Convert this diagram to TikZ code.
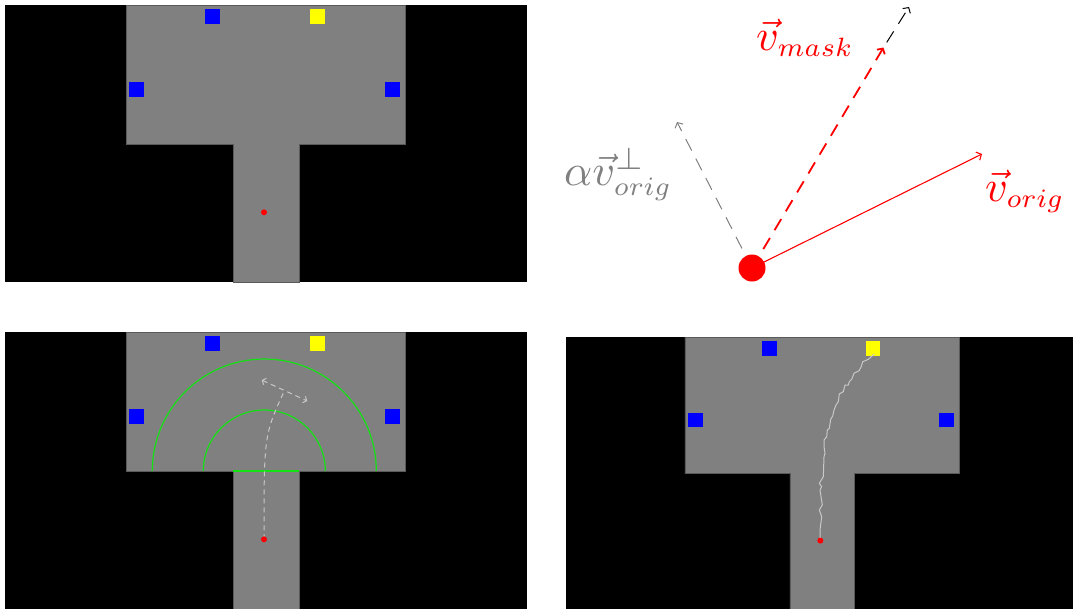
\documentclass[tikz,border=0pt]{standalone}
\usepackage{graphicx}
\usetikzlibrary{arrows.meta}
\definecolor{floorgray}{RGB}{128,128,128}
\definecolor{edgegray}{RGB}{90,90,90}
\definecolor{tblue}{RGB}{0,0,255}
\definecolor{tyellow}{RGB}{255,255,0}
\definecolor{tred}{RGB}{255,0,0}
\definecolor{tgreen}{RGB}{20,225,20}
\definecolor{pathgray}{RGB}{200,200,200}
\definecolor{labgray}{RGB}{128,128,128}
\newcommand{\subsc}[1]{\scalebox{0.86}{$\scriptstyle #1$}}
\tikzset{
  tip/.style={-{Straight Barb[length=4pt,width=9pt]}},
  dtip/.style={{Straight Barb[length=3pt,width=7pt]}-{Straight Barb[length=3pt,width=7pt]}},
  dashpat/.style={dash pattern=on 13pt off 9pt},
  lab/.style={inner sep=0pt,anchor=base west},
  tmap/.pic={
    \fill[black] (0,0) rectangle (522,277);
    \fill[floorgray,draw=edgegray,line width=0.6pt] (121,0) -- (400,0) -- (400,139) -- (294,139) -- (294,277) -- (228,277) -- (228,139) -- (121,139) -- cycle;
    \fill[tblue] (200,4) rectangle ++(15,15);
    \fill[tyellow] (305,4) rectangle ++(15,15);
    \fill[tblue] (124,77) rectangle ++(15,15);
    \fill[tblue] (380,77) rectangle ++(15,15);
    \coordinate (-dot) at (259,207.3);
  }
}
\begin{document}
\begin{tikzpicture}[x=1pt,y=-1pt]
\useasboundingbox (0,0) rectangle (1073,608);

% top-left map
\pic (tl) at (5,5) {tmap};
\fill[tred] (tl-dot) circle[radius=3];

% bottom-left map
\pic (bl) at (5,332) {tmap};
\draw[tgreen,line width=1.2pt] (152.3,471) arc[start angle=180,end angle=360,radius=112];
\draw[tgreen,line width=1.2pt] (203.3,471) arc[start angle=180,end angle=360,radius=61];
\coordinate (gl) at (233,471);
\coordinate (gr) at (299,471);
\draw[tgreen,line width=1.2pt] (gl) -- (gr);
\coordinate (hd) at (284.5,390.5);
\coordinate (ha) at (261.7,380);
\coordinate (hb) at (307.3,401);
\draw[pathgray,line width=1pt,dash pattern=on 5pt off 4pt] (bl-dot) .. controls (264,435) .. (hd);
\draw[pathgray,line width=1pt,dash pattern=on 5pt off 4pt,dtip] (ha) -- (hb);
\fill[tred] (bl-dot) circle[radius=3];

% bottom-right map
\begin{scope}
\clip (566,337) rectangle (1073,608);
\pic[scale=0.982] (br) at (566,337) {tmap};
\end{scope}
\draw[pathgray,line width=1pt,line join=round] (br-dot) -- (820,530) -- (821.7,516.7) -- (819.3,510) -- (822.3,505) -- (820,490) -- (821.7,486.7) -- (819.3,483.3) -- (823.3,476.7) -- (824,456.7) -- (825,453.3) -- (824,446.7) -- (824,440) -- (826.7,436.7) -- (827.3,430) -- (829.3,428.3) -- (830.7,419.3) -- (832.7,416) -- (834,410) -- (836,405) -- (838.3,401.7) -- (839.3,394) -- (843.3,391.7) -- (845,385) -- (848.3,385) -- (849.3,381.7) -- (851.7,379.3) -- (854,373.3) -- (859,370.7) -- (861,367.3) -- (862.7,361.7) -- (868.3,359.3) -- (874.3,354);
\fill[tred] (br-dot) circle[radius=3];

% top-right vector diagram
\coordinate (O) at (752,268);
\coordinate (vo) at (982,154);
\coordinate (vm) at (883.5,47.5);
\coordinate (vs) at (909,7);
\coordinate (vp) at (677,122);
\draw[labgray,line width=1pt,dashpat,tip] (O) -- (vp);
\draw[tred,line width=1.8pt,dashpat,tip] (O) -- (vm);
\draw[black,line width=1pt,dashpat,tip,shorten <=6pt] (vm) -- (vs);
\draw[tred,line width=1.1pt,tip] (O) -- (vo);
\node[circle,fill=tred,minimum size=27pt,inner sep=0pt] (dot) at (O) {};

\node[lab,text=tred] (lmask) at (756,50) {\scalebox{4.4}{$\vec{v}_{\subsc{mask}}$}};
\node[lab,text=tred] (lorig) at (985,201) {\scalebox{4.4}{$\vec{v}_{\subsc{orig}}$}};
\node[lab,text=labgray] (lperp) at (564,185) {\scalebox{4.4}{$\alpha\vec{v}^{\perp}_{\subsc{orig}}$}};
\end{tikzpicture}
\end{document}
